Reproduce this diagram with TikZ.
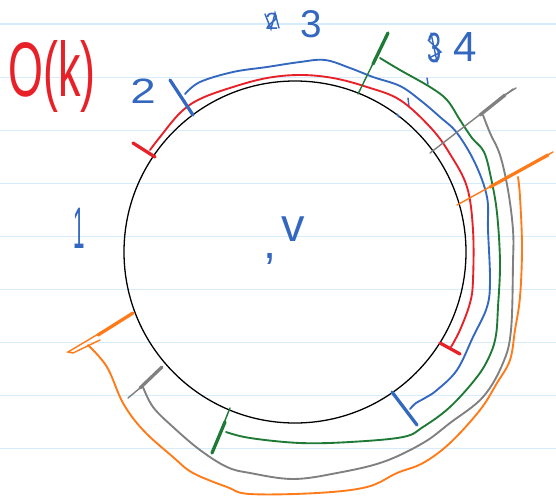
\documentclass[tikz,border=0pt]{standalone}
\usepackage{fontspec}
\setmainfont{Liberation Sans}
\definecolor{cred}{RGB}{232,32,40}
\definecolor{cblue}{RGB}{52,104,192}
\definecolor{cgreen}{RGB}{30,122,52}
\definecolor{cgray}{RGB}{128,128,128}
\definecolor{corange}{RGB}{255,122,24}
\definecolor{ruleblue}{RGB}{214,236,250}
\usetikzlibrary{positioning}
\tikzset{
  rule/.style={draw=ruleblue,line width=1pt},
  ring/.style={circle,draw=black,line width=1.1pt,minimum size=10.26cm,inner sep=0pt},
  trail/.style={draw=#1,line width=1.6pt,line cap=round,line join=round},
  stopbar/.style={draw=#1,line width=2.8pt,line cap=round},
  thinbar/.style={draw=#1,line width=1.2pt,line cap=round},
  ink/.style={text=#1,inner sep=0pt},
}

\begin{document}
\begin{tikzpicture}[x=0.03cm,y=-0.03cm]
  \useasboundingbox (0,0) rectangle (556,501);
  \fill[white] (0,0) rectangle (556,501);

  % ruled paper
  \foreach \k in {0,...,8}
    \draw[rule] (0,24+53.1*\k) -- (556,24+53.1*\k);

  \node[ring] (ring) at (295,252) {};

  % labels
  \node[ink=cred,xscale=0.58,font=\fontsize{66}{66}\selectfont] (cost) at (52,76) {O(k)};
  \node[ink=cblue,xscale=1.3,font=\fontsize{30}{30}\selectfont] (lbltwo) at (143,91) {2};
  \node[ink=cblue,xscale=0.35,font=\fontsize{50}{50}\selectfont] (lblone) at (79,228) {1};
  \node[ink=cblue,font=\fontsize{20}{20}\selectfont] (oldtwo) at (272,21) {2};
  \node[ink=cblue,font=\fontsize{33}{33}\selectfont] (lblthree) at (311,24) {3};
  \node[ink=cblue,xscale=0.6,font=\fontsize{36}{36}\selectfont] (oldthree) at (435,48) {3};
  \node[ink=cblue,font=\fontsize{36}{36}\selectfont] (lblfour) at (465,47) {4};
  \node[ink=cblue,font=\fontsize{40}{40}\selectfont] (vname) at (293,229) {v};
  \node[ink=cblue,font=\fontsize{40}{40}\selectfont] (vdot) at (270,259) {,};

  % scribbles over the old numbers
  \draw[thinbar=cblue] (265,14) -- (271,29) -- (275,13) -- (279,28);
  \draw[thinbar=cblue] (431,33) -- (437,62);
  \draw[thinbar=cblue] (428,40) -- (441,52) -- (429,58);

  % stray marks
  \draw[thinbar=cblue] (427,78) -- (428,84);
  \draw[thinbar=cblue] (408,98) -- (409,107);
  \draw[thinbar=cblue] (397,114) -- (399,117);

  % red
  \coordinate (r0a) at (133,143); \coordinate (r0b) at (155,157);
  \coordinate (r1a) at (440,343); \coordinate (r1b) at (460,354);
  \draw[trail=cred] plot[smooth,tension=0.6] coordinates {(150,150) (160,137) (180,113)
    (200,99) (233,87) (267,78) (300,75) (333,78) (367,87) (400,100) (431,128)
    (450,154) (467,187) (473,230) (473,280) (470,303) (460,330) (451,347)};
  \draw[stopbar=cred] (r0a) -- (r0b);
  \draw[stopbar=cred] (r1a) -- (r1b);

  % blue
  \coordinate (b0a) at (170,80); \coordinate (b0b) at (193,115);
  \coordinate (b1a) at (392,392); \coordinate (b1b) at (417,425);
  \draw[trail=cblue] plot[smooth,tension=0.6] coordinates {(185,94) (200,82) (233,72)
    (267,67) (300,62) (325,60) (350,68) (373,77) (400,86) (420,100) (440,117)
    (457,133) (475,163) (487,197) (488,230) (490,280) (487,307) (473,337)
    (457,370) (437,390) (425,398) (416,403) (410,409)};
  \draw[stopbar=cblue] (b0a) -- (b0b);
  \draw[stopbar=cblue] (b1a) -- (b1b);

  % green
  \coordinate (g0a) at (358,94); \coordinate (g0b) at (388,33);
  \coordinate (g1a) at (230,408); \coordinate (g1b) at (212,453);
  \draw[trail=cgreen] plot[smooth,tension=0.6] coordinates {(380,58) (400,70) (430,87)
    (447,100) (460,120) (472,138) (484,152) (491,178) (497,213) (500,263)
    (498,307) (496,335) (490,355) (477,377) (450,407) (423,427) (403,437)
    (350,442) (300,443) (250,438) (226,432)};
  \draw[thinbar=cgreen] (g0a) -- (g0b);
  \draw[stopbar=cgreen] (373,64) -- (g0b);
  \draw[thinbar=cgreen] (g1a) -- (g1b);
  \draw[stopbar=cgreen] (225,422) -- (g1b);

  % gray
  \coordinate (y0a) at (430,153); \coordinate (y0b) at (513,89);
  \coordinate (y1a) at (162,367); \coordinate (y1b) at (128,398);
  \draw[trail=cgray] plot[smooth,tension=0.6] coordinates {(483,115) (490,133)
    (500,155) (508,190) (513,230) (513,263) (511,330) (503,363) (483,397)
    (450,423) (423,443) (383,462) (337,473) (293,479) (250,473) (227,467)
    (200,450) (173,427) (153,407) (143,387)};
  \draw[thinbar=cgray] (y0a) -- (y0b);
  \draw[stopbar=cgray] (480,115) -- (505,95);
  \draw[thinbar=cgray] (500,98) -- (516,88);
  \draw[stopbar=cgray] (y1a) -- (140,388);
  \draw[thinbar=cgray] (140,388) -- (y1b);

  % orange
  \coordinate (o0a) at (457,205); \coordinate (o0b) at (553,152);
  \coordinate (o1a) at (133,313); \coordinate (o1b) at (68,352);
  \draw[trail=corange] plot[smooth,tension=0.6] coordinates {(518,177) (520,197)
    (522,247) (520,297) (515,330) (510,360) (497,383) (480,410) (450,443)
    (423,463) (397,473) (367,487) (317,493) (250,494) (227,487) (193,473)
    (173,457) (143,430) (123,403) (107,367) (88,345)};
  \draw[thinbar=corange] (o0a) -- (o0b);
  \draw[stopbar=corange] (490,187) -- (548,155);
  \draw[stopbar=corange] (o1a) -- (98,335);
  \draw[thinbar=corange] (105,330) -- (o1b) -- (73,353) -- (100,340);
\end{tikzpicture}
\end{document}
